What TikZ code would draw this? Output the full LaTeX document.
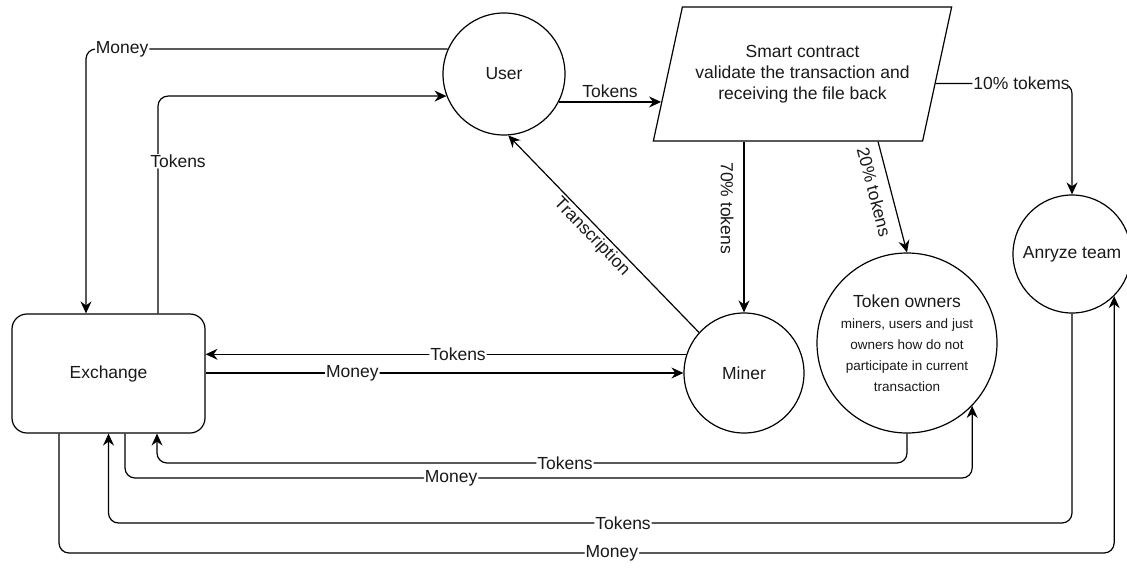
\documentclass[tikz,border=0pt]{standalone}
\usepackage{fontspec}
\setmainfont{Liberation Sans}
\usetikzlibrary{arrows.meta,shapes.geometric,calc}

\begin{document}
\begin{tikzpicture}[x=1pt,y=-1pt,
  every node/.style={font=\fontsize{17.5}{21}\selectfont, text=black!90},
  ent/.style={draw, line width=1.2pt, circle, inner sep=0pt},
  flow/.style={draw, line width=1.2pt, rounded corners=10pt,
    -{Stealth[length=12pt,width=11pt,inset=4pt]}},
  lbl/.style={fill=white, inner sep=1pt},
]
\useasboundingbox (0,0) rectangle (1127,568);

% entities
\node[ent, minimum size=122pt] (user) at (504,74) {User};
\node[draw, line width=1.2pt, trapezium, trapezium left angle=65.9,
      trapezium right angle=114.1, trapezium stretches=true,
      minimum width=299pt, minimum height=134pt, inner sep=0pt,
      align=center] (sc) at (802.5,74)
      {Smart contract\\validate the transaction and\\receiving the file back};
\node[draw, line width=1.2pt, rounded corners=15pt, minimum width=193pt,
      minimum height=119pt] (exch) at (108.5,373.5) {Exchange};
\node[ent, minimum size=120pt] (miner) at (744,373) {Miner};
\node[ent, minimum size=180pt, align=center,
      font=\fontsize{13.5}{21}\selectfont] (own) at (907,343)
      {{\fontsize{17.5}{21}\selectfont Token owners}\\miners, users and just\\owners how do not\\participate in current\\transaction};
\node[ent, minimum size=118pt] (anr) at (1072,254) {Anryze team};

% horizontal lanes under the diagram
\coordinate (laneA) at (0,463);
\coordinate (laneB) at (0,478);
\coordinate (laneC) at (0,523);
\coordinate (laneD) at (0,553);

% ports on the slanted sides of the smart contract
\coordinate (scin)  at ($(sc.bottom left corner)!0.29!(sc.top left corner)$);
\coordinate (scout) at ($(sc.bottom right corner)!0.43!(sc.top right corner)$);

% user <-> exchange
\draw[flow] (user.156) -| node[lbl, pos=0.45] {Money} ([xshift=-22.5pt]exch.north);
\draw[flow] ([xshift=49.5pt]exch.north) |- node[lbl, pos=0.35, xshift=20pt] {Tokens} (user.201);

% user -> smart contract
\draw[flow] (user.-27) -- node[above] {Tokens} (user.-27 -| scin);

% smart contract splits
\draw[flow] (scout) -| node[lbl, pos=0.315] {10\% tokems} (anr.north);
\draw[flow] (miner.north |- sc.south) -- node[pos=0.39, xshift=-17pt, rotate=-90] {70\% tokens} (miner.north);
\draw[flow] ([xshift=75.5pt]sc.south) -- node[pos=0.455, xshift=-17pt, rotate=-75.5] {20\% tokens} (own.north);

% miner -> user
\draw[flow] (miner.138) -- node[pos=0.5, shift={(-12pt,-3pt)}, rotate=-46] {Transcription} (user.274);

% miner <-> exchange
\draw[flow] (miner.162) -- node[lbl, pos=0.475] {Tokens} (miner.162 -| exch.east);
\draw[flow] (miner.west -| exch.east) -- node[lbl, pos=0.307] {Money} (miner.west);

% token owners <-> exchange
\draw[flow] (own.south) -- (own.south |- laneA) -| node[lbl, pos=0.228] {Tokens} ([xshift=48.5pt]exch.south);
\draw[flow] ([xshift=16.5pt]exch.south) -- ([xshift=16.5pt]exch.south |- laneB) -| node[lbl, pos=0.1925] {Money} (own.-44);

% anryze team <-> exchange
\draw[flow] (anr.south) -- (anr.south |- laneC) -| node[lbl, pos=0.233] {Tokens} (exch.south);
\draw[flow] ([xshift=-49.5pt]exch.south) -- ([xshift=-49.5pt]exch.south |- laneD) -| node[lbl, pos=0.262] {Money} (anr.-45);
\end{tikzpicture}
\end{document}
